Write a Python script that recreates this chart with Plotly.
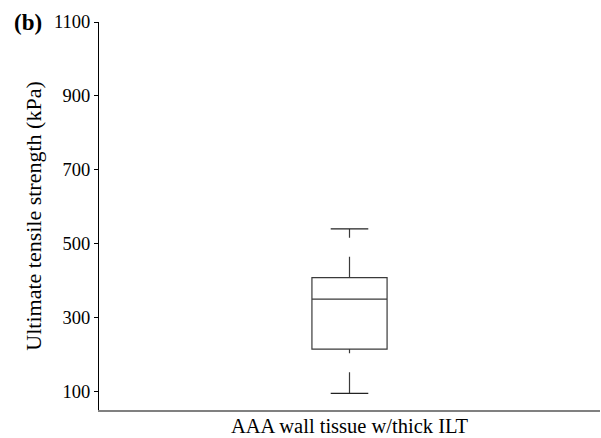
import plotly.graph_objects as go

# ---- data ----
categories = ["AAA wall tissue w/thick ILT"]
q1_vals = [215]
median_vals = [350]
q3_vals = [408]
lower_vals = [95]
upper_vals = [540]
y_tick_vals = [100, 300, 500, 700, 900, 1100]

positions = list(range(len(categories)))
box_width = 0.15
cap_half = 0.0375
line_col = "#3a3a3a"
font_family = "Liberation Serif, Times New Roman, serif"

fig = go.Figure()

fig.add_trace(go.Box(
    x=positions,
    q1=q1_vals, median=median_vals, q3=q3_vals,
    lowerfence=q1_vals, upperfence=q3_vals,
    width=box_width, whiskerwidth=0,
    fillcolor="rgba(255,255,255,0)",
    line=dict(color=line_col, width=1.2),
    boxpoints=False, showlegend=False, hoverinfo="skip",
))

for i, p in enumerate(positions):
    # dashed whiskers (drawn from low value to high value)
    fig.add_trace(go.Scatter(
        x=[p, p], y=[q3_vals[i], upper_vals[i]], mode="lines",
        line=dict(color=line_col, width=1.2, dash="21px,19px"),
        showlegend=False, hoverinfo="skip"))
    fig.add_trace(go.Scatter(
        x=[p, p], y=[lower_vals[i], q1_vals[i]], mode="lines",
        line=dict(color=line_col, width=1.2, dash="21px,19px"),
        showlegend=False, hoverinfo="skip"))
    # caps
    for v in (upper_vals[i], lower_vals[i]):
        fig.add_trace(go.Scatter(
            x=[p - cap_half, p + cap_half], y=[v, v], mode="lines",
            line=dict(color="#222222", width=1.3),
            showlegend=False, hoverinfo="skip"))

fig.update_layout(
    width=601, height=438,
    margin=dict(l=99, r=1, t=22, b=28),
    paper_bgcolor="white", plot_bgcolor="white",
    font=dict(family=font_family, color="black", size=18),
    showlegend=False,
    annotations=[dict(
        text="<b>(b)</b>", xref="paper", yref="paper",
        x=-0.174, y=1.0, xanchor="left", yanchor="middle",
        showarrow=False, font=dict(family=font_family, size=23, color="black"))],
)

fig.update_xaxes(
    range=[-0.5, 0.5], tickvals=positions, ticktext=categories,
    ticks="", showgrid=False, zeroline=False, automargin=False,
    ticklabelstandoff=-3,
    showline=True, linecolor="#808080", linewidth=1.5,
    tickfont=dict(family=font_family, size=20.5, color="black"),
)
fig.update_yaxes(
    range=[50, 1100], tickvals=y_tick_vals, automargin=False,
    ticks="outside", ticklen=4, tickcolor="black", tickwidth=1,
    showgrid=False, zeroline=False,
    showline=True, linecolor="black", linewidth=1,
    tickfont=dict(family=font_family, size=18.5, color="black"),
    title=dict(text="Ultimate tensile strength (kPa)", standoff=6,
               font=dict(family=font_family, size=22, color="black")),
)

fig.write_html("out.html")
